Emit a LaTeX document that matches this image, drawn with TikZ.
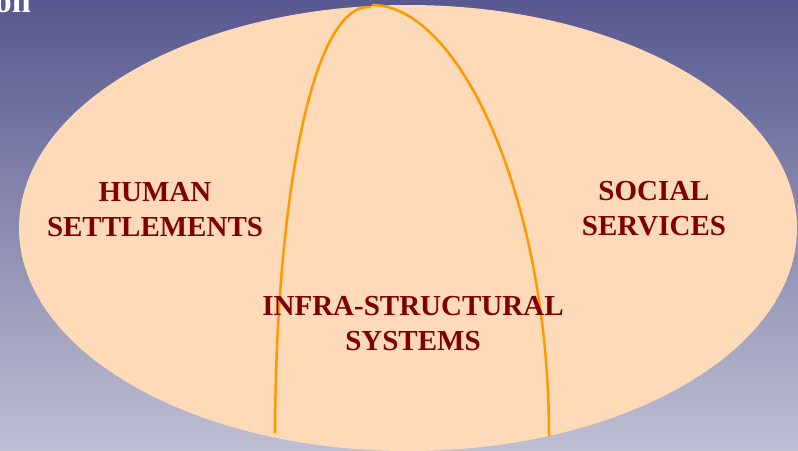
\documentclass[tikz,border=0pt]{standalone}
\usepackage{fontspec}
\setmainfont{Liberation Serif}
\usepackage{xcolor}
\usepackage{tikz}
\usetikzlibrary{positioning}
\definecolor{bgtop}{HTML}{585890}
\definecolor{bgbot}{HTML}{BEBED2}
\definecolor{peach}{HTML}{FFDAB9}
\definecolor{archorange}{HTML}{FF9900}
\definecolor{maroon}{HTML}{7F0000}
\tikzset{
  sector/.style={align=center, text=maroon, inner sep=0pt, font=\fontsize{29}{35}\selectfont\bfseries},
  arch/.style={draw=archorange, line width=2.5pt},
  heading/.style={text=white, inner sep=0pt, font=\fontsize{34}{40}\selectfont\bfseries},
}

\begin{document}
\begin{tikzpicture}[x=1pt, y=-1pt]
  \useasboundingbox (0,0) rectangle (798,450);
  \clip (0,0) rectangle (798,450);
  \shade[top color=bgtop, bottom color=bgbot] (0,0) rectangle (798,450);
  \node[heading, anchor=base east] (title) at (31,12) {on};

  % the whole field
  \fill[peach] (408,228) ellipse [x radius=389pt, y radius=223pt];

  % overlap region
  \coordinate (archL) at (275,433);
  \coordinate (archtopL) at (371,7);
  \coordinate (archtopR) at (372,5);
  \coordinate (archR) at (549,436);
  \draw[arch] (archL) .. controls (276,200) and (312,2) .. (archtopL);
  \draw[arch] (archtopR) .. controls (460,5) and (549,200) .. (archR);

  \node[sector] (human) at (155,209.5) {HUMAN\\SETTLEMENTS};
  \node[sector] (social) at (654,208.5) {SOCIAL\\SERVICES};
  \node[sector] (infra) at (413,323.5) {INFRA-STRUCTURAL\\SYSTEMS};
\end{tikzpicture}
\end{document}
